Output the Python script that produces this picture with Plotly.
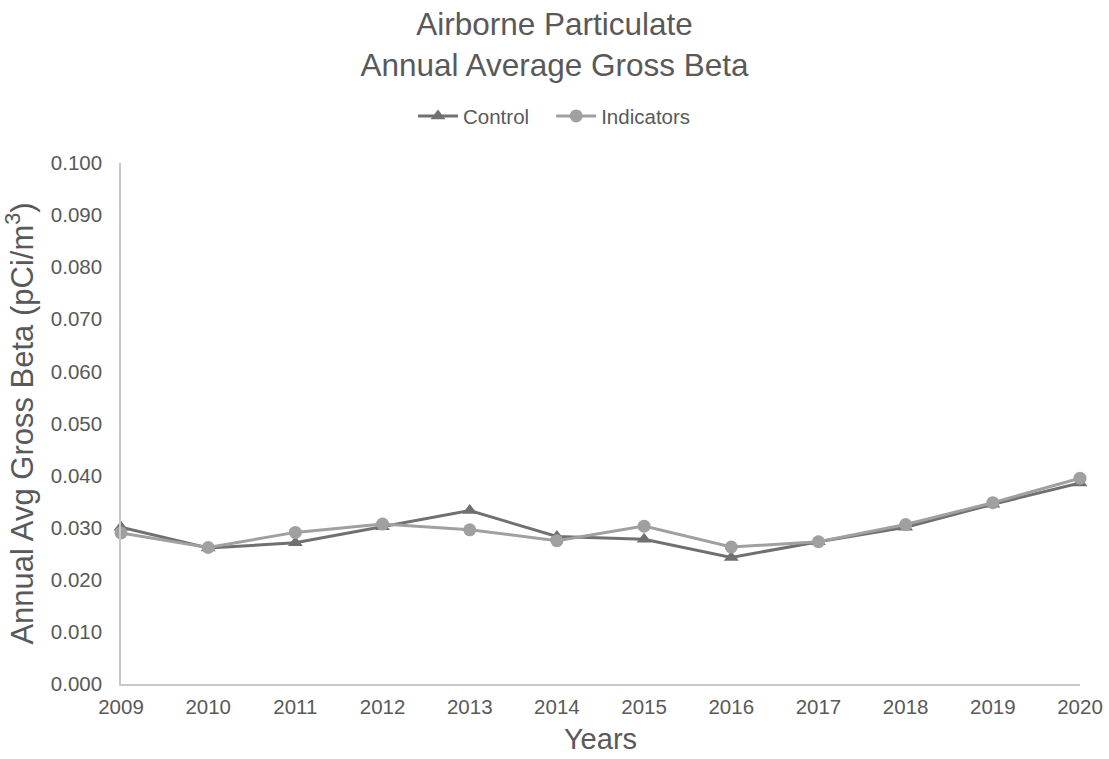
import plotly.graph_objects as go

years = [2009, 2010, 2011, 2012, 2013, 2014, 2015, 2016, 2017, 2018, 2019, 2020]
control = [0.0301, 0.0261, 0.0271, 0.0302, 0.0333, 0.0283, 0.0278, 0.0243, 0.0273, 0.0301, 0.0345, 0.0386]
indicators = [0.0290, 0.0262, 0.0291, 0.0307, 0.0296, 0.0275, 0.0303, 0.0263, 0.0273, 0.0306, 0.0348, 0.0395]
y_ticks = [0.0, 0.01, 0.02, 0.03, 0.04, 0.05, 0.06, 0.07, 0.08, 0.09, 0.1]

text_color = "#595959"
font_family = "Liberation Sans, Arial, sans-serif"
legend_pad = "\u00a0\u00a0\u00a0"  # extra room between legend entries

fig = go.Figure()
fig.add_trace(go.Scatter(
    x=years, y=control, name="Control" + legend_pad, mode="lines+markers",
    line=dict(color="#707070", width=3),
    marker=dict(symbol="triangle-up", size=13, color="#707070"),
    cliponaxis=False,
))
fig.add_trace(go.Scatter(
    x=years, y=indicators, name="Indicators", mode="lines+markers",
    line=dict(color="#a0a0a0", width=3),
    marker=dict(symbol="circle", size=13, color="#a0a0a0"),
    cliponaxis=False,
))

fig.update_layout(
    width=1109, height=759,
    margin=dict(l=121, r=29, t=163, b=75, autoexpand=False),
    paper_bgcolor="white", plot_bgcolor="white",
    font=dict(family=font_family, color=text_color, size=20),
    title=dict(
        text="Airborne Particulate<br>Annual Average Gross Beta",
        x=0.5, xanchor="center", xref="container",
        y=1 - 35 / 759, yanchor="middle", yref="container",
        font=dict(size=31.5, color=text_color),
        automargin=False,
    ),
    legend=dict(
        orientation="h", x=0.5, xanchor="center", xref="container",
        y=1.09, yanchor="middle",
        font=dict(size=20.5, color=text_color),
        itemwidth=40,
    ),
    showlegend=True,
)
fig.update_xaxes(
    range=[2009, 2020], tickmode="array", tickvals=years,
    ticktext=[str(y) for y in years],
    showgrid=False, zeroline=False, automargin=False,
    showline=True, linecolor="#c8c8c8", linewidth=1.5,
    ticks="", tickfont=dict(size=20.5, color=text_color),
    ticklabelstandoff=4,
    title=dict(text="Years", font=dict(size=29, color=text_color), standoff=11),
)
fig.update_yaxes(
    range=[0, 0.1], tickmode="array", tickvals=y_ticks, tickformat=".3f",
    showgrid=False, zeroline=False, automargin=False,
    showline=True, linecolor="#c8c8c8", linewidth=1.5,
    ticks="", tickfont=dict(size=20.5, color=text_color),
    ticklabelstandoff=13,
    title=dict(text="Annual Avg Gross Beta (pCi/m<sup>3</sup>)",
               font=dict(size=31, color=text_color), standoff=10),
)

fig.write_html("out.html")
